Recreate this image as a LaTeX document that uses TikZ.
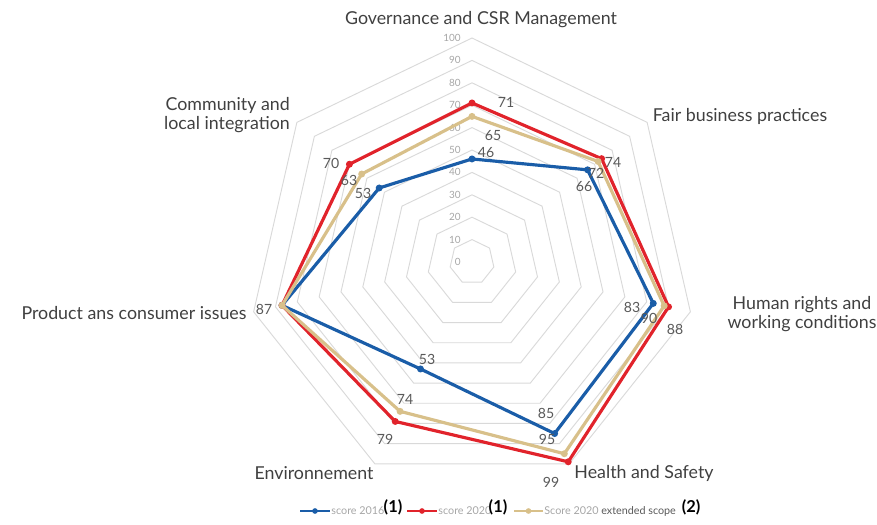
\documentclass[tikz,border=0pt]{standalone}
\usepackage{fontspec}
\setmainfont{Lato}
\usetikzlibrary{positioning,calc}

\definecolor{s16}{HTML}{1A5DA8}
\definecolor{s20}{HTML}{E1232B}
\definecolor{s20x}{HTML}{D8C08A}
\definecolor{gridgray}{HTML}{D9D9D9}
\definecolor{labgray}{HTML}{595959}
\definecolor{axgray}{HTML}{A6A6A6}
\definecolor{txtgray}{HTML}{404040}

\tikzset{
    cat/.style={font=\fontsize{15.2}{15.6}\selectfont, text=txtgray, inner sep=0pt, align=center},
    val/.style={font=\fontsize{12}{12}\selectfont, text=labgray, inner sep=0pt},
    scalelab/.style={font=\fontsize{8.5}{9}\selectfont, text=axgray, inner sep=0pt, anchor=east},
    ring/.style={draw=gridgray, line width=0.8pt},
    series/.style={draw=#1, line width=2.7pt, line join=round},
    sdot/.style={circle, fill=#1, inner sep=0pt, minimum size=0.21cm},
    legtext/.style={font=\fontsize{9.2}{10}\selectfont, text=axgray, inner sep=0pt},
    note/.style={font=\fontsize{14}{14}\selectfont\bfseries, inner sep=0pt}
}

\begin{document}
\begin{tikzpicture}[x=0.03cm, y=-0.03cm]
    \useasboundingbox (0,0) rectangle (877,524);

    % Grid
    \begin{scope}[shift={(472,262)}]
        \foreach \k in {1,...,10}
            \draw[ring] (-90:{22.4*\k}) \foreach \i in {1,...,6} { -- ({-90+360/7*\i}:{22.4*\k}) } -- cycle;
        \foreach \v in {0,10,...,100}
            \node[scalelab] at (-11,{-2.24*\v}) {\v};

        % Points
        \coordinate (b1) at (-90:{2.24*46});
        \coordinate (b2) at (-38.571:{2.24*66});
        \coordinate (b3) at (12.857:{2.24*83});
        \coordinate (b4) at (64.286:{2.24*85});
        \coordinate (b5) at (115.714:{2.24*53});
        \coordinate (b6) at (167.143:{2.24*87});
        \coordinate (b7) at (218.571:{2.24*53});

        \coordinate (r1) at (-90:{2.24*71});
        \coordinate (r2) at (-38.571:{2.24*74});
        \coordinate (r3) at (12.857:{2.24*90});
        \coordinate (r4) at (64.286:{2.24*99});
        \coordinate (r5) at (115.714:{2.24*79});
        \coordinate (r6) at (167.143:{2.24*87});
        \coordinate (r7) at (218.571:{2.24*70});

        \coordinate (t1) at (-90:{2.24*65});
        \coordinate (t2) at (-38.571:{2.24*72});
        \coordinate (t3) at (12.857:{2.24*88});
        \coordinate (t4) at (64.286:{2.24*95});
        \coordinate (t5) at (115.714:{2.24*74});
        \coordinate (t6) at (167.143:{2.24*87});
        \coordinate (t7) at (218.571:{2.24*63});
    \end{scope}

    % Series
    \draw[series=s16] (b1) -- (b2) -- (b3) -- (b4) -- (b5) -- (b6) -- (b7) -- cycle;
    \foreach \p in {b1,b2,b3,b4,b5,b6,b7} \node[sdot=s16] at (\p) {};
    \draw[series=s20] (r1) -- (r2) -- (r3) -- (r4) -- (r5) -- (r6) -- (r7) -- cycle;
    \foreach \p in {r1,r2,r3,r4,r5,r6,r7} \node[sdot=s20] at (\p) {};
    \draw[series=s20x] (t1) -- (t2) -- (t3) -- (t4) -- (t5) -- (t6) -- (t7) -- cycle;
    \foreach \p in {t1,t2,t3,t4,t5,t6,t7} \node[sdot=s20x] at (\p) {};

    % Values
    \node[val] at (506,102) (v71) {71};
    \node[val] at (493,136) (v65) {65};
    \node[val] at (486,153) (v46) {46};
    \node[val] at (613,162) (v74a) {74};
    \node[val] at (596,173) (v72) {72};
    \node[val] at (584,187) (v66) {66};
    \node[val] at (632,307) (v83) {83};
    \node[val] at (649,318) (v90) {90};
    \node[val] at (675,329) (v88) {88};
    \node[val] at (546,413) (v85) {85};
    \node[val] at (547,439) (v95) {95};
    \node[val] at (551,482) (v99) {99};
    \node[val] at (427,359) (v53a) {53};
    \node[val] at (405,399) (v74b) {74};
    \node[val] at (385,439) (v79) {79};
    \node[val] at (264,309) (v87) {87};
    \node[val] at (331,163) (v70) {70};
    \node[val] at (349,180) (v63) {63};
    \node[val] at (363,193) (v53b) {53};

    % Axes
    \node[cat] at (481,20) (gov) {Governance and CSR Management};
    \node[cat] at (740,116) (fair) {Fair business practices};
    \node[cat] at (802,314) (human) {Human rights and\\working conditions};
    \node[cat] at (644,473) (health) {Health and Safety};
    \node[cat] at (314,473) (env) {Environnement};
    \node[cat] at (134,313) (prod) {Product ans consumer issues};
    \node[cat, align=right, anchor=east] at (290,115) (comm) {Community and\\local integration};

    % Legend
    \coordinate (l16a) at (300,511);
    \coordinate (l16b) at (330,511);
    \coordinate (l20a) at (407,511);
    \coordinate (l20b) at (437,511);
    \coordinate (l20xa) at (514,511);
    \coordinate (l20xb) at (543,511);
    \draw[s16, line width=2.4pt] (l16a) -- (l16b);
    \node[sdot=s16, minimum size=0.17cm] at ($(l16a)!0.5!(l16b)$) {};
    \draw[s20, line width=2.4pt] (l20a) -- (l20b);
    \node[sdot=s20, minimum size=0.17cm] at ($(l20a)!0.5!(l20b)$) {};
    \draw[s20x, line width=2.4pt] (l20xa) -- (l20xb);
    \node[sdot=s20x, minimum size=0.17cm] at ($(l20xa)!0.5!(l20xb)$) {};
    \node[legtext, right=1pt of l16b] (k16) {score 2016};
    \node[legtext, right=1pt of l20b] (k20) {score 2020};
    \node[legtext, right=1pt of l20xb] (k20x) {Score 2020 {\color{labgray}extended scope}};
    \node[note] at (393,507) (n1) {(1)};
    \node[note] at (498,507) (n2) {(1)};
    \node[note] at (691,507) (n3) {(2)};
\end{tikzpicture}
\end{document}
